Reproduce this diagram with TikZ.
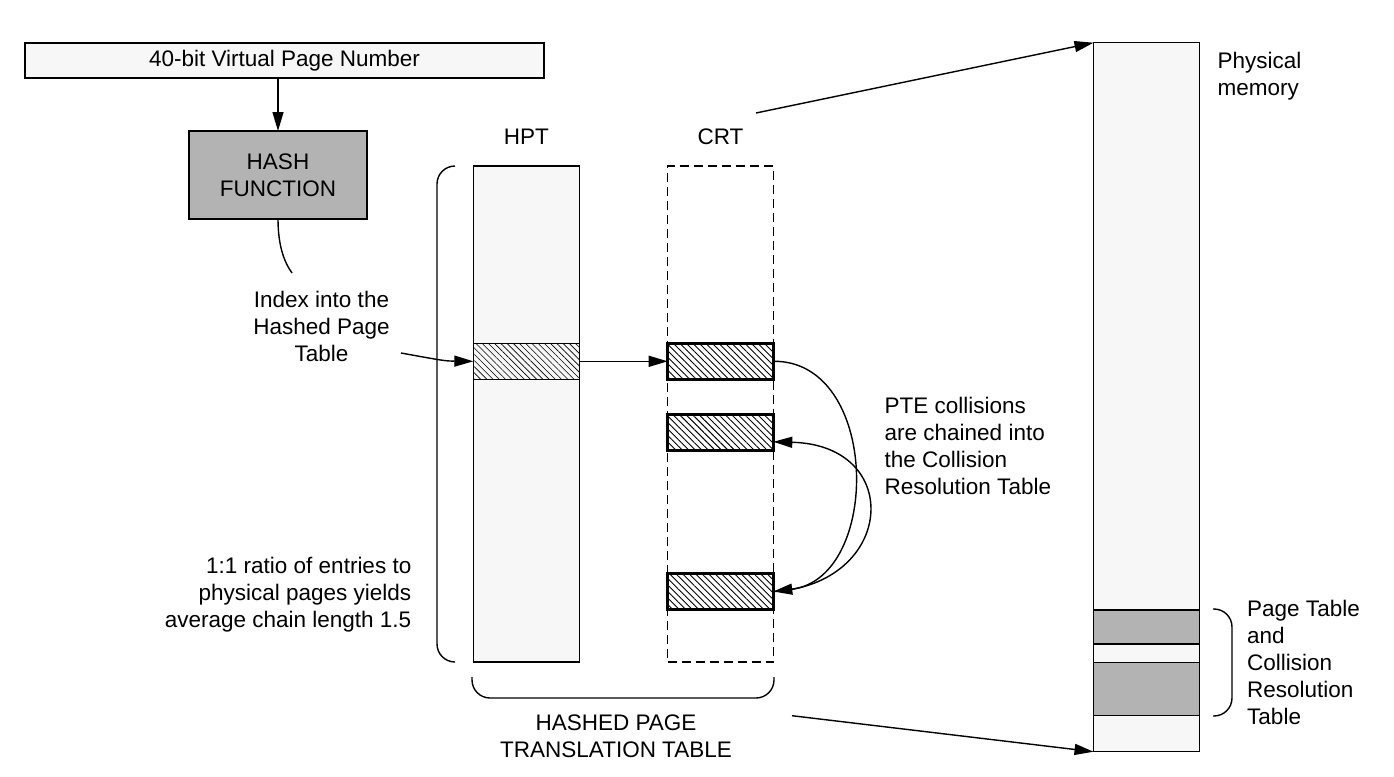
\documentclass[tikz,border=0pt]{standalone}
\usepackage{fontspec}
\setmainfont{Liberation Sans}
\usepackage{tikz}
\usetikzlibrary{arrows.meta, patterns.meta, positioning}

\definecolor{colfill}{HTML}{F7F7F7}
\definecolor{blockgray}{HTML}{B3B3B3}

\tikzset{
    lbl/.style={inner sep=0pt, font=\fontsize{22.5}{27}\selectfont},
    box/.style={draw, line width=1.5pt, inner sep=0pt, outer sep=0pt,
        font=\fontsize{22.5}{27}\selectfont},
    column/.style={box, fill=colfill, minimum width=106pt},
    entry/.style={box, line width=2.6pt, minimum width=105.6pt, minimum height=36pt,
        pattern={Lines[angle=-45,distance=4.6pt,line width=0.9pt]}},
    block/.style={box, fill=blockgray, minimum width=106pt},
    brace/.style={line width=1.4pt, rounded corners=18pt}
}

\begin{document}
\begin{tikzpicture}[x=1pt, y=-1pt, line width=1.4pt,
        >={Triangle[length=19pt,width=11pt]}]
    \useasboundingbox (0,0) rectangle (1394,776);

    \node [box, fill=colfill, minimum width=519pt, minimum height=35pt] (vpn) at (284.5,60.5) {40-bit Virtual Page Number};
    \node [box, fill=blockgray, minimum width=178pt, minimum height=88pt, align=center] (hash) at (278,175) {HASH\\FUNCTION};
    \node [lbl, align=center, anchor=north] (idx) at (321.5,290) {Index into the\\Hashed Page\\Table};
    \coordinate (idxtop) at (292,273);
    \coordinate (idxout) at (401,353);

    % hashed page table and collision resolution table
    \node [column, minimum height=496pt] (hpt) at (526.3,414) {};
    \node [lbl, above=21pt of hpt] (hptlbl) {HPT};
    \node [box, minimum width=105.6pt, minimum height=496pt, dash pattern=on 9pt off 5pt] (crt) at (720.5,414) {};
    \node [lbl, above=21pt of crt] (crtlbl) {CRT};
    \node [box, line width=1pt, minimum width=106pt, minimum height=36pt,
        pattern={Lines[angle=-45,distance=4.4pt,line width=0.6pt]}] (hptrow) at (526.3,361.3) {};
    \node [entry] (crta) at (720.5,361.3) {};
    \node [entry] (crtb) at (720.5,432.5) {};
    \node [entry] (crtc) at (720.5,591.5) {};

    \node [lbl, align=right, anchor=north east] (ratio) at (412,556) {1:1 ratio of entries to\\physical pages yields\\average chain length 1.5};
    \node [lbl, align=left, anchor=north west] (pte) at (884,396.5) {PTE collisions\\are chained into\\the Collision\\Resolution Table};
    \node [lbl, align=center, anchor=north] (hptt) at (616,714.5) {HASHED PAGE\\TRANSLATION TABLE};
    \coordinate (hptout) at (756,113);
    \coordinate (tblout) at (792,715.7);

    % physical memory
    \node [column, minimum height=709pt] (mem) at (1146.5,397.2) {};
    \node [block, minimum height=34pt] (ptmem) at (1146.5,627.2) {};
    \node [block, minimum height=53pt] (crtmem) at (1146.5,689.2) {};
    \node [lbl, align=left, anchor=north west] (memlbl) at (1217,51) {Physical\\memory};
    \node [lbl, align=left, anchor=north west] (ptlbl) at (1246.5,599.5) {Page Table\\and\\Collision\\Resolution\\Table};

    % braces
    \draw [brace] (455,166) -- (437,166) -- (437,662) -- (455,662);
    \draw [brace] (472,677) -- (472,698) -- (774,698) -- (774,677);
    \draw [brace] (1213,609) -- (1232,609) -- (1232,716) -- (1213,716);

    % connectors
    \draw [->] (vpn.south -| hash.north) -- (hash.north);
    \draw (hash.south) .. controls (278,245) and (284,262) .. (idxtop);
    \draw [->] (idxout) .. controls (445,361) .. (hptrow.west);
    \draw [->] (hptrow.east) -- (crta.west);
    \draw [->] (crta.east) .. controls (880,360) and (882,578) .. (crtc.east);
    \draw [->] (crtc.east) .. controls (895,585) and (905,445) .. (crtb.-10);
    \draw [->] (hptout) -- (mem.north west);
    \draw [->] (tblout) -- (mem.south west);
\end{tikzpicture}
\end{document}
